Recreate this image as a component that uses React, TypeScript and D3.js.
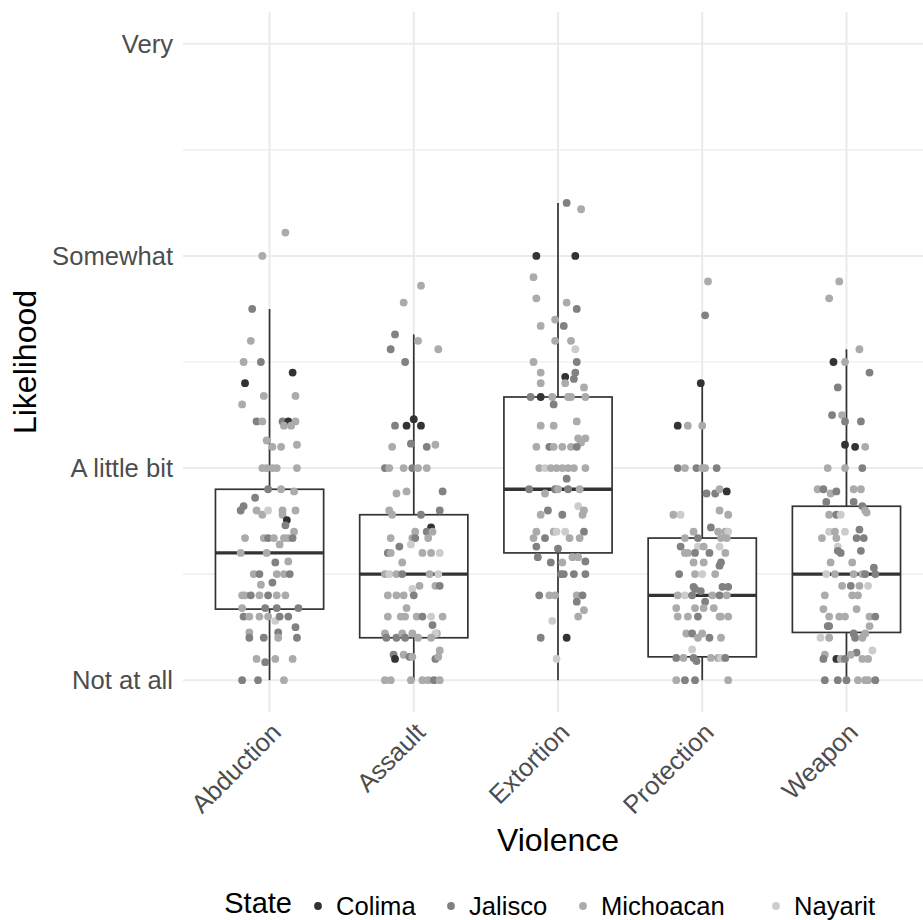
import * as d3 from "d3";
import React, { useEffect, useRef } from "react";

const categories = ["Abduction", "Assault", "Extortion", "Protection", "Weapon"];
const states = ["Colima", "Jalisco", "Michoacan", "Nayarit"];
const stateColors = ["#333333", "#818181", "#ABABAB", "#CCCCCC"];
const likelihoodLabels = ["Not at all", "A little bit", "Somewhat", "Very"];

// [lower whisker, q1, median, q3, upper whisker]
const boxStats = [
  [1, 1.335, 1.6, 1.9, 2.75],
  [1, 1.2, 1.5, 1.78, 2.63],
  [1, 1.6, 1.9, 2.335, 3.25],
  [1, 1.11, 1.4, 1.67, 2.4],
  [1, 1.225, 1.5, 1.82, 2.56],
];

// responses: [jitter (fraction of category step), likelihood, state index]
const abduction = [
  [0.11, 3.11, 2], [-0.05, 3.0, 2], [-0.12, 2.75, 1], [-0.13, 2.6, 2], [-0.18, 2.5, 2], [-0.06, 2.5, 1],
  [0.16, 2.45, 0], [-0.17, 2.4, 0], [-0.04, 2.34, 2], [0.18, 2.34, 2], [-0.19, 2.3, 2], [-0.09, 2.22, 1],
  [-0.05, 2.22, 2], [0.09, 2.22, 1], [0.13, 2.22, 0], [0.18, 2.22, 2], [0.1, 2.2, 2], [0.15, 2.2, 2],
  [-0.02, 2.13, 2], [0.02, 2.1, 2], [0.08, 2.1, 2], [0.19, 2.11, 2],
  [-0.05, 2.0, 2], [-0.02, 2.0, 2], [0.02, 2.0, 2], [0.05, 2.0, 2], [0.19, 2.0, 2],
  [-0.01, 1.9, 1], [0.08, 1.9, 2], [0.17, 1.89, 2], [-0.1, 1.86, 1], [-0.18, 1.82, 1], [-0.2, 1.8, 1],
  [-0.09, 1.8, 2], [-0.05, 1.78, 2], [-0.01, 1.8, 3], [0.09, 1.8, 2], [0.18, 1.8, 2], [0.09, 1.78, 2],
  [0.12, 1.755, 0], [0.11, 1.73, 1], [0.17, 1.7, 2],
  [-0.17, 1.67, 2], [-0.04, 1.67, 2], [-0.01, 1.67, 1], [0.03, 1.67, 2], [0.1, 1.67, 2], [0.13, 1.67, 2], [0.16, 1.67, 1],
  [0.07, 1.64, 2], [-0.2, 1.6, 2], [-0.02, 1.6, 2], [0.04, 1.555, 1], [0.13, 1.56, 2],
  [-0.11, 1.5, 2], [-0.07, 1.5, 1], [0.05, 1.5, 2], [0.1, 1.5, 2], [0.14, 1.5, 1],
  [-0.06, 1.45, 2], [0.02, 1.46, 1],
  [-0.19, 1.4, 2], [-0.17, 1.4, 2], [-0.13, 1.4, 1], [-0.07, 1.4, 2], [-0.01, 1.4, 1], [0.05, 1.4, 2], [0.11, 1.4, 2],
  [-0.19, 1.34, 2], [-0.03, 1.34, 1], [0.05, 1.34, 1], [0.2, 1.34, 1],
  [-0.18, 1.3, 1], [-0.14, 1.3, 2], [-0.07, 1.3, 2], [-0.01, 1.3, 2], [0.04, 1.28, 3], [0.07, 1.3, 1], [0.13, 1.3, 1],
  [-0.14, 1.225, 2], [0.06, 1.225, 1], [0.18, 1.25, 1],
  [-0.14, 1.2, 1], [-0.04, 1.2, 1], [0.06, 1.2, 2], [0.19, 1.2, 1],
  [-0.09, 1.1, 2], [0.04, 1.1, 2], [0.16, 1.1, 2], [-0.03, 1.085, 1],
  [-0.19, 1.0, 1], [-0.08, 1.0, 1], [0.1, 1.0, 2],
];

const assault = [
  [0.05, 2.86, 2], [-0.07, 2.78, 2], [-0.13, 2.63, 1], [0.03, 2.6, 2], [-0.16, 2.56, 1], [0.17, 2.56, 2],
  [-0.06, 2.5, 1], [0.0, 2.23, 0], [-0.13, 2.2, 1], [-0.05, 2.2, 0], [0.05, 2.2, 0], [-0.15, 2.1, 2],
  [-0.02, 2.115, 1], [0.09, 2.1, 1], [0.15, 2.11, 2],
  [-0.2, 2.0, 1], [-0.17, 2.0, 2], [-0.07, 2.0, 2], [-0.01, 2.0, 1], [0.03, 2.0, 2], [0.09, 2.0, 2],
  [-0.12, 1.88, 2], [-0.05, 1.89, 2], [0.2, 1.89, 1],
  [-0.17, 1.8, 2], [-0.15, 1.78, 2], [0.05, 1.78, 1], [0.18, 1.8, 1],
  [0.12, 1.72, 0], [0.09, 1.7, 1], [0.13, 1.7, 2], [0.01, 1.7, 2],
  [-0.16, 1.67, 2], [-0.01, 1.67, 2], [0.01, 1.67, 1], [0.1, 1.67, 2],
  [-0.02, 1.64, 3], [-0.1, 1.63, 1],
  [-0.18, 1.6, 1], [-0.16, 1.6, 2], [0.06, 1.6, 2], [0.12, 1.6, 2], [0.18, 1.6, 3],
  [-0.08, 1.555, 2],
  [-0.2, 1.5, 2], [-0.17, 1.5, 3], [-0.12, 1.5, 2], [-0.08, 1.5, 1], [0.11, 1.5, 2], [0.17, 1.5, 3],
  [0.04, 1.445, 2], [-0.01, 1.43, 3], [0.15, 1.445, 2], [0.18, 1.445, 1],
  [-0.18, 1.4, 2], [-0.12, 1.4, 2], [-0.07, 1.4, 2], [0.0, 1.4, 1],
  [-0.05, 1.34, 2],
  [-0.18, 1.3, 2], [-0.09, 1.3, 2], [-0.06, 1.3, 2], [0.02, 1.3, 2], [0.06, 1.3, 1], [0.12, 1.3, 3], [0.2, 1.3, 2],
  [0.13, 1.26, 1], [0.16, 1.22, 2], [0.15, 1.22, 3],
  [-0.2, 1.22, 2], [-0.19, 1.2, 1], [-0.12, 1.2, 1], [-0.08, 1.22, 2], [-0.06, 1.2, 1], [-0.01, 1.22, 2], [0.03, 1.2, 2], [0.12, 1.2, 2],
  [-0.14, 1.12, 1], [-0.13, 1.1, 0], [-0.07, 1.12, 2], [-0.03, 1.11, 1], [-0.01, 1.11, 2], [0.15, 1.1, 1], [0.18, 1.14, 2], [0.17, 1.11, 2],
  [-0.2, 1.0, 2], [-0.16, 1.0, 2], [-0.02, 1.0, 2], [0.06, 1.0, 2], [0.1, 1.0, 2], [0.14, 1.0, 1], [0.18, 1.0, 2],
];

const extortion = [
  [0.06, 3.25, 1], [0.16, 3.22, 2], [-0.15, 3.0, 0], [0.12, 3.0, 0], [-0.17, 2.9, 2], [-0.15, 2.8, 2],
  [0.06, 2.78, 2], [0.13, 2.75, 1], [-0.02, 2.7, 2], [-0.12, 2.67, 2], [0.04, 2.67, 1], [-0.02, 2.6, 2],
  [0.09, 2.6, 2], [0.12, 2.56, 3], [-0.17, 2.5, 2], [0.13, 2.5, 1], [-0.12, 2.45, 2], [0.05, 2.43, 0],
  [0.12, 2.45, 1], [0.11, 2.42, 1], [-0.12, 2.4, 2], [0.05, 2.4, 2], [0.18, 2.38, 2],
  [-0.19, 2.335, 1], [-0.12, 2.335, 0], [-0.04, 2.335, 2], [0.07, 2.335, 2], [0.09, 2.335, 2], [0.19, 2.335, 2],
  [-0.03, 2.3, 1], [-0.12, 2.2, 2], [-0.03, 2.2, 2], [0.13, 2.22, 2], [0.14, 2.14, 2], [0.19, 2.14, 2], [0.16, 2.12, 2],
  [-0.15, 2.1, 2], [-0.06, 2.1, 1], [-0.03, 2.1, 2], [0.03, 2.1, 2], [0.09, 2.1, 2], [0.13, 2.1, 1],
  [-0.13, 2.0, 2], [-0.09, 2.0, 3], [-0.05, 2.0, 2], [-0.01, 2.0, 2], [0.03, 2.0, 2], [0.07, 2.0, 2], [0.11, 2.0, 2], [0.19, 2.0, 2],
  [0.06, 1.95, 1],
  [-0.2, 1.9, 1], [-0.02, 1.9, 1], [0.0, 1.9, 2], [0.07, 1.9, 1], [0.15, 1.9, 2], [-0.09, 1.88, 2],
  [-0.07, 1.8, 1], [-0.12, 1.78, 2], [0.03, 1.78, 1], [0.14, 1.82, 3], [0.18, 1.8, 2], [0.17, 1.78, 2],
  [-0.15, 1.7, 2], [-0.03, 1.7, 2], [-0.01, 1.7, 3], [0.05, 1.7, 3], [0.18, 1.7, 1],
  [-0.17, 1.67, 2], [-0.09, 1.67, 1], [0.08, 1.67, 2], [0.15, 1.67, 2],
  [-0.15, 1.63, 1], [-0.14, 1.58, 1], [0.0, 1.62, 1], [0.1, 1.58, 2], [0.14, 1.58, 2], [0.19, 1.56, 1],
  [-0.05, 1.555, 1], [0.03, 1.555, 2],
  [0.02, 1.5, 1], [0.04, 1.5, 1], [0.11, 1.5, 1], [0.19, 1.5, 1],
  [-0.13, 1.4, 1], [-0.06, 1.4, 2], [-0.02, 1.4, 2], [0.13, 1.4, 2], [0.17, 1.4, 1], [0.13, 1.37, 1],
  [0.18, 1.33, 2], [0.14, 1.3, 2], [-0.04, 1.28, 3],
  [-0.12, 1.2, 1], [0.06, 1.2, 0], [-0.01, 1.1, 3],
];

const protection = [
  [0.04, 2.88, 2], [0.02, 2.72, 1], [-0.01, 2.4, 0], [-0.17, 2.2, 0], [-0.1, 2.2, 2], [0.0, 2.2, 2],
  [-0.17, 2.0, 1], [-0.12, 2.0, 2], [-0.04, 2.0, 1], [0.0, 2.0, 2], [0.02, 2.0, 2], [0.1, 2.0, 1],
  [0.03, 1.88, 1], [0.09, 1.88, 1], [0.12, 1.9, 2], [0.17, 1.89, 0],
  [-0.2, 1.78, 2], [-0.15, 1.78, 3], [0.12, 1.8, 2], [0.18, 1.78, 2],
  [-0.06, 1.7, 2], [0.06, 1.72, 1], [0.11, 1.7, 2], [0.16, 1.7, 2], [0.18, 1.7, 3],
  [-0.12, 1.67, 2], [-0.03, 1.67, 1], [0.13, 1.67, 2], [0.17, 1.67, 2],
  [-0.15, 1.63, 1], [-0.03, 1.63, 3], [0.12, 1.63, 3], [0.01, 1.63, 2],
  [-0.12, 1.6, 2], [-0.1, 1.6, 2], [-0.05, 1.6, 1], [0.05, 1.6, 1], [0.16, 1.6, 2],
  [-0.06, 1.555, 2], [0.01, 1.555, 2], [0.13, 1.555, 1], [0.12, 1.54, 1],
  [-0.16, 1.5, 1], [-0.05, 1.5, 2], [0.0, 1.5, 3], [0.09, 1.5, 2],
  [-0.06, 1.44, 1], [-0.05, 1.43, 1], [-0.01, 1.42, 1], [0.14, 1.44, 1], [0.18, 1.44, 1],
  [-0.17, 1.4, 2], [-0.12, 1.4, 3], [-0.07, 1.4, 1], [0.07, 1.4, 2], [0.12, 1.4, 1], [0.17, 1.4, 2],
  [0.02, 1.37, 1],
  [-0.18, 1.34, 2], [-0.05, 1.34, 2], [0.01, 1.34, 2], [0.08, 1.34, 2],
  [-0.17, 1.3, 2], [-0.1, 1.3, 2], [-0.03, 1.3, 1], [0.12, 1.3, 2], [0.13, 1.3, 2], [0.18, 1.3, 2],
  [-0.11, 1.22, 2], [-0.07, 1.22, 1], [-0.03, 1.2, 2], [0.0, 1.22, 2], [0.05, 1.2, 1], [0.13, 1.2, 2],
  [-0.07, 1.145, 3],
  [-0.18, 1.105, 1], [-0.13, 1.105, 2], [-0.06, 1.105, 1], [-0.04, 1.09, 1], [0.06, 1.105, 2], [0.11, 1.105, 2], [0.13, 1.105, 3], [0.16, 1.105, 1],
  [-0.18, 1.0, 2], [-0.12, 1.0, 1], [-0.05, 1.0, 1], [0.18, 1.0, 2],
];

const weapon = [
  [-0.05, 2.88, 2], [-0.12, 2.8, 2], [0.09, 2.56, 2], [-0.09, 2.5, 0], [-0.01, 2.5, 2], [0.16, 2.45, 1],
  [-0.06, 2.38, 1], [-0.1, 2.25, 1], [-0.03, 2.25, 2], [-0.01, 2.22, 1], [0.1, 2.22, 1], [-0.01, 2.11, 0],
  [0.06, 2.1, 0], [0.13, 2.1, 2],
  [-0.13, 2.0, 2], [-0.01, 2.0, 2], [0.11, 2.0, 1],
  [-0.2, 1.9, 2], [-0.16, 1.9, 1], [-0.11, 1.88, 2], [-0.07, 1.89, 1], [0.05, 1.9, 2], [0.1, 1.9, 2],
  [-0.14, 1.84, 1], [0.05, 1.84, 1], [0.11, 1.82, 1], [0.13, 1.8, 2], [0.14, 1.79, 2],
  [-0.12, 1.78, 2], [-0.07, 1.78, 1], [-0.04, 1.78, 3],
  [-0.12, 1.7, 3], [-0.08, 1.7, 2], [-0.01, 1.7, 3], [0.09, 1.71, 1],
  [-0.17, 1.67, 2], [-0.07, 1.67, 2], [0.07, 1.67, 1], [0.12, 1.67, 1],
  [-0.06, 1.63, 3], [-0.06, 1.61, 1], [-0.04, 1.6, 1], [0.1, 1.61, 1],
  [-0.11, 1.555, 2], [0.04, 1.555, 2],
  [-0.14, 1.5, 3], [-0.08, 1.5, 2], [0.05, 1.5, 2], [0.11, 1.5, 2], [0.13, 1.5, 1], [0.2, 1.5, 1], [0.19, 1.53, 1],
  [-0.03, 1.445, 2], [0.03, 1.445, 1], [0.09, 1.445, 2], [0.15, 1.445, 3],
  [-0.15, 1.4, 2], [0.04, 1.4, 2], [0.08, 1.4, 2],
  [-0.16, 1.335, 2], [0.07, 1.335, 2],
  [-0.12, 1.3, 2], [-0.05, 1.3, 2], [-0.01, 1.3, 2], [0.16, 1.3, 2], [0.2, 1.3, 1],
  [-0.13, 1.255, 1], [-0.12, 1.255, 1], [0.16, 1.255, 2],
  [-0.18, 1.2, 3], [-0.12, 1.2, 2], [0.06, 1.2, 1], [0.11, 1.2, 2], [0.05, 1.22, 1], [0.13, 1.22, 2],
  [0.18, 1.14, 3],
  [0.07, 1.13, 1], [-0.15, 1.12, 2], [-0.16, 1.1, 1], [-0.07, 1.1, 0], [-0.04, 1.1, 2], [-0.01, 1.1, 1], [0.03, 1.12, 2], [0.11, 1.1, 2], [0.15, 1.1, 2],
  [-0.15, 1.0, 1], [-0.06, 1.0, 1], [0.0, 1.0, 1], [0.08, 1.0, 2], [0.13, 1.0, 2], [0.15, 1.0, 2], [0.2, 1.0, 1],
];

const responses = [abduction, assault, extortion, protection, weapon];

const WIDTH = 923;
const HEIGHT = 920;
const FONT = "'Liberation Sans', Arial, Helvetica, sans-serif";

const App = () => {
  const svgRef = useRef(null);

  useEffect(() => {
    // panel runs a little past the right edge, as in the cropped original
    const margin = { top: 12, right: -10, bottom: 208, left: 183 };
    const svg = d3.select(svgRef.current);
    svg.selectAll("*").remove();

    const x = d3.scalePoint()
      .domain(categories)
      .range([margin.left, WIDTH - margin.right])
      .padding(0.6);
    const step = x.step();

    const y = d3.scaleLinear()
      .domain([0.85, 4.15])
      .range([HEIGHT - margin.bottom, margin.top]);

    const panelLeft = margin.left;
    const panelRight = WIDTH - margin.right;
    const panelBottom = HEIGHT - margin.bottom;

    // grid
    const grid = svg.append("g");
    [1.5, 2.5, 3.5].forEach(v => {
      grid.append("line")
        .attr("x1", panelLeft).attr("x2", panelRight)
        .attr("y1", y(v)).attr("y2", y(v))
        .attr("stroke", "#EBEBEB").attr("stroke-width", 1.1);
    });
    [1, 2, 3, 4].forEach(v => {
      grid.append("line")
        .attr("x1", panelLeft).attr("x2", panelRight)
        .attr("y1", y(v)).attr("y2", y(v))
        .attr("stroke", "#EBEBEB").attr("stroke-width", 2.1);
    });
    categories.forEach(c => {
      grid.append("line")
        .attr("x1", x(c)).attr("x2", x(c))
        .attr("y1", margin.top).attr("y2", panelBottom)
        .attr("stroke", "#EBEBEB").attr("stroke-width", 2.1);
    });

    // boxplots
    const boxes = svg.append("g");
    categories.forEach((c, i) => {
      const [lo, q1, med, q3, hi] = boxStats[i];
      const cx = x(c);
      const half = step * 0.375;
      boxes.append("line")
        .attr("x1", cx).attr("x2", cx).attr("y1", y(q3)).attr("y2", y(hi))
        .attr("stroke", "#333333").attr("stroke-width", 1.7);
      boxes.append("line")
        .attr("x1", cx).attr("x2", cx).attr("y1", y(q1)).attr("y2", y(lo))
        .attr("stroke", "#333333").attr("stroke-width", 1.7);
      boxes.append("rect")
        .attr("x", cx - half).attr("width", half * 2)
        .attr("y", y(q3)).attr("height", y(q1) - y(q3))
        .attr("fill", "white").attr("stroke", "#333333").attr("stroke-width", 1.7);
      boxes.append("line")
        .attr("x1", cx - half).attr("x2", cx + half)
        .attr("y1", y(med)).attr("y2", y(med))
        .attr("stroke", "#333333").attr("stroke-width", 3.4);
    });

    // jittered points
    const pts = svg.append("g");
    categories.forEach((c, i) => {
      pts.selectAll(null)
        .data(responses[i])
        .enter()
        .append("circle")
        .attr("cx", d => x(c) + d[0] * step)
        .attr("cy", d => y(d[1]))
        .attr("r", 3.9)
        .attr("fill", d => stateColors[d[2]]);
    });

    // y axis labels
    svg.append("g")
      .selectAll("text")
      .data(likelihoodLabels)
      .enter()
      .append("text")
      .attr("x", panelLeft - 10)
      .attr("y", (d, i) => y(i + 1))
      .attr("dy", "0.35em")
      .attr("text-anchor", "end")
      .attr("fill", "#4D4D4D")
      .style("font-family", FONT)
      .style("font-size", "25.6px")
      .text(d => d);

    // x axis labels
    svg.append("g")
      .selectAll("text")
      .data(categories)
      .enter()
      .append("text")
      .attr("transform", d => `translate(${x(d)},${panelBottom + 9}) rotate(-45)`)
      .attr("dy", "0.72em")
      .attr("text-anchor", "end")
      .attr("fill", "#4D4D4D")
      .style("font-family", FONT)
      .style("font-size", "25.6px")
      .text(d => d);

    // axis titles
    svg.append("text")
      .attr("x", (panelLeft + panelRight) / 2)
      .attr("y", 851)
      .attr("text-anchor", "middle")
      .style("font-family", FONT)
      .style("font-size", "32px")
      .text("Violence");

    svg.append("text")
      .attr("transform", `translate(36,${y(2.5)}) rotate(-90)`)
      .attr("text-anchor", "middle")
      .style("font-family", FONT)
      .style("font-size", "32px")
      .text("Likelihood");

    // legend
    const legend = svg.append("g").attr("transform", `translate(0,906)`);
    legend.append("text")
      .attr("x", 292)
      .attr("y", 7)
      .attr("text-anchor", "end")
      .style("font-family", FONT)
      .style("font-size", "29px")
      .text("State");
    const keyX = [318, 451, 583, 776];
    states.forEach((s, i) => {
      legend.append("circle")
        .attr("cx", keyX[i]).attr("cy", 0).attr("r", 3.9)
        .attr("fill", stateColors[i]);
      legend.append("text")
        .attr("x", keyX[i] + 18).attr("y", 0).attr("dy", "0.35em")
        .style("font-family", FONT)
        .style("font-size", "25.6px")
        .text(s);
    });
  }, []);

  return (
    <svg
      ref={svgRef}
      width={WIDTH}
      height={HEIGHT}
      style={{ position: "absolute", left: 0, top: 0, background: "white" }}
    />
  );
};

export default App;
